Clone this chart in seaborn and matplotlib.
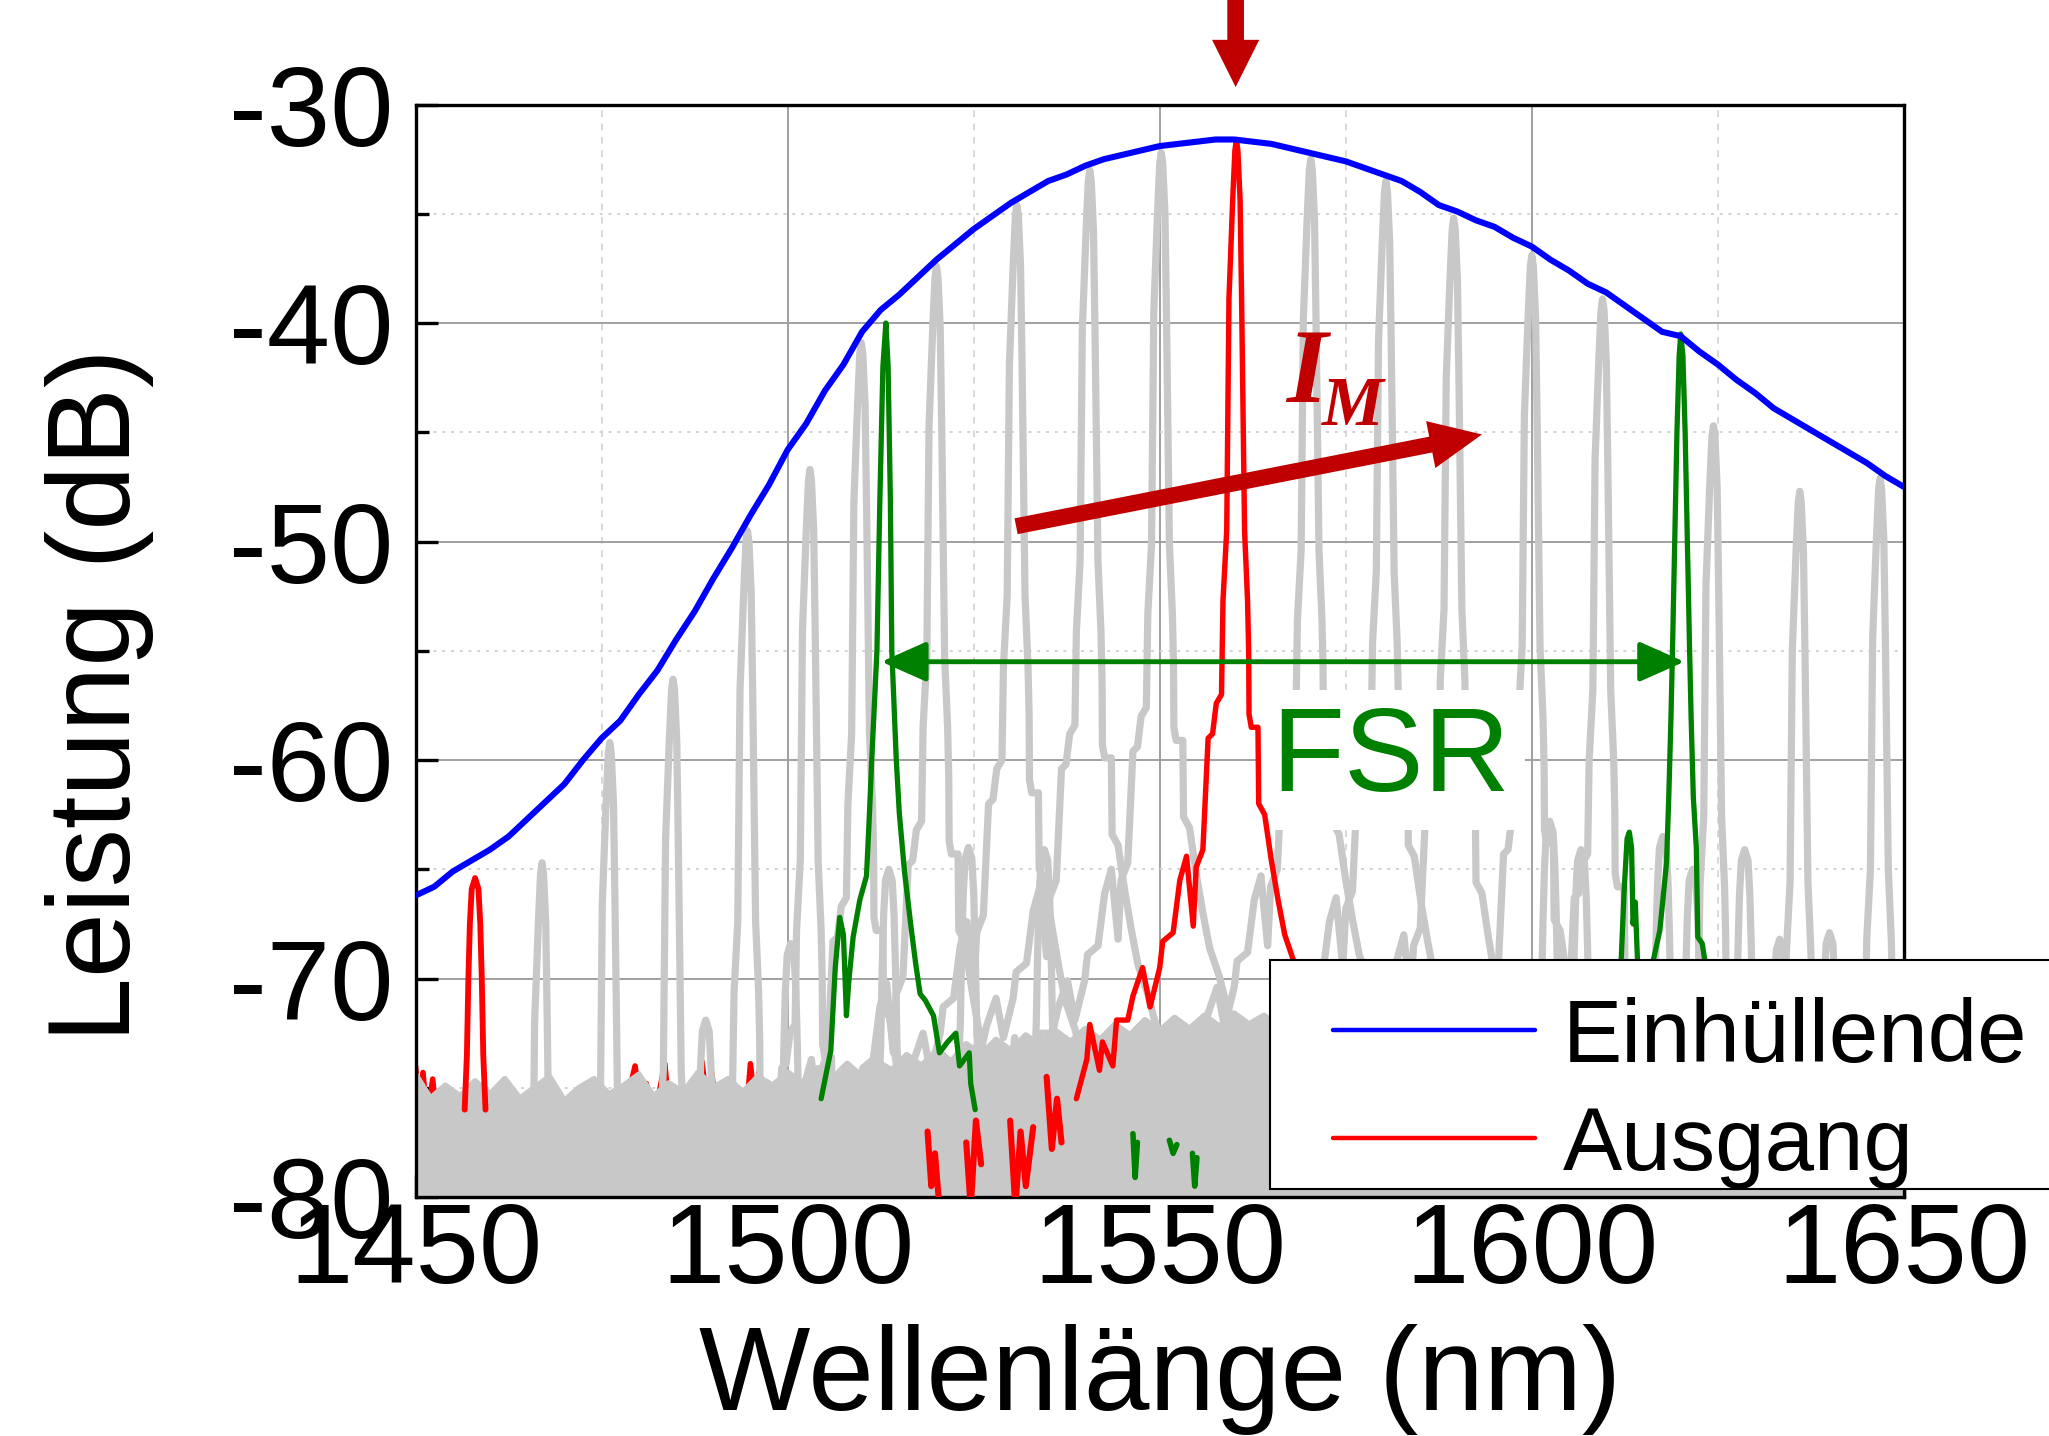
import numpy as np
import matplotlib
matplotlib.use("Agg")
import matplotlib.pyplot as plt
from matplotlib.lines import Line2D
from matplotlib.patches import Rectangle
from matplotlib.ticker import MultipleLocator
import seaborn as sns

# Einhuellende (blue envelope)
env_nm = [1450.0, 1452.5, 1455.0, 1457.5, 1460.0, 1462.5, 1465.0, 1467.5, 1470.0, 1472.5,
          1475.0, 1477.5, 1480.0, 1482.5, 1485.0, 1487.5, 1490.0, 1492.5, 1495.0, 1497.5,
          1500.0, 1502.5, 1505.0, 1507.5, 1510.0, 1512.5, 1515.0, 1517.5, 1520.0, 1522.5,
          1525.0, 1527.5, 1530.0, 1532.5, 1535.0, 1537.5, 1540.0, 1542.5, 1545.0, 1547.5,
          1550.0, 1552.5, 1555.0, 1557.5, 1560.0, 1562.5, 1565.0, 1567.5, 1570.0, 1572.5,
          1575.0, 1577.5, 1580.0, 1582.5, 1585.0, 1587.5, 1590.0, 1592.5, 1595.0, 1597.5,
          1600.0, 1602.5, 1605.0, 1607.5, 1610.0, 1612.5, 1615.0, 1617.5, 1620.0, 1622.5,
          1625.0, 1627.5, 1630.0, 1632.5, 1635.0, 1637.5, 1640.0, 1642.5, 1645.0, 1647.5, 1650.0]
env_db = [-66.2, -65.8, -65.1, -64.6, -64.1, -63.5, -62.7, -61.9, -61.1, -60.0,
          -59.0, -58.2, -57.0, -55.9, -54.5, -53.2, -51.7, -50.3, -48.8, -47.4,
          -45.8, -44.6, -43.1, -41.9, -40.4, -39.4, -38.7, -37.9, -37.1, -36.4,
          -35.7, -35.1, -34.5, -34.0, -33.5, -33.2, -32.8, -32.5, -32.3, -32.1,
          -31.9, -31.8, -31.7, -31.6, -31.6, -31.7, -31.8, -32.0, -32.2, -32.4,
          -32.6, -32.9, -33.2, -33.5, -34.0, -34.6, -34.9, -35.3, -35.6, -36.1,
          -36.5, -37.1, -37.6, -38.2, -38.6, -39.2, -39.8, -40.4, -40.6, -41.3,
          -41.9, -42.6, -43.2, -43.9, -44.4, -44.9, -45.4, -45.9, -46.4, -47.0, -47.5]

# Ausgang (red): main line and its side mode
red_nm = [1538.8, 1540.2, 1540.6, 1541.9, 1542.3, 1543.7, 1544.2, 1545.7, 1546.4, 1547.7,
          1548.7, 1550.0, 1550.4, 1551.8, 1552.7, 1553.6, 1554.5, 1554.9, 1555.8, 1556.5,
          1557.1, 1557.6, 1558.3, 1558.5, 1559.0, 1559.3, 1559.8, 1560.1, 1560.3, 1560.5,
          1560.8, 1561.0, 1561.4, 1561.8, 1561.95, 1562.0, 1562.3, 1563.2, 1563.3, 1564.1,
          1565.0, 1565.9, 1566.8, 1568.1, 1569.0, 1571.0, 1574.0]
red_db = [-75.5, -73.7, -72.1, -74.2, -72.9, -74.0, -71.9, -71.9, -70.8, -69.5,
          -71.3, -69.5, -68.3, -67.9, -65.5, -64.4, -67.6, -64.9, -64.1, -59.0,
          -58.8, -57.4, -57.0, -52.7, -49.5, -38.9, -34.4, -32.1, -31.6, -32.1,
          -34.4, -38.9, -49.5, -52.7, -55.0, -57.9, -58.5, -58.5, -62.0, -62.5,
          -64.6, -66.4, -68.0, -69.3, -70.5, -72.5, -74.5]
red_center, red_top = 1560.3, -31.6

red_side_nm = [1456.6, 1456.9, 1457.1, 1457.3, 1457.55, 1458.0, 1458.45, 1458.7, 1458.9, 1459.1, 1459.4]
red_side_db = [-76.0, -73.5, -70.0, -67.5, -65.9, -65.4, -65.9, -67.5, -70.0, -73.5, -76.0]
side_center, side_top = 1458.0, -65.4

# red noise poking out of the floor, and deep red dips
red_noise_nm = [1450.0, 1450.5, 1451.0, 1451.6, 1452.3, 1453.0, 1455.0, 1457.0, 1462.0, 1467.0,
                1472.0, 1478.0, 1479.5, 1480.3, 1481.0, 1482.0, 1483.5, 1484.2, 1487.8, 1488.5,
                1489.2, 1489.8, 1490.5, 1494.5, 1495.0, 1495.6, 1496.2, 1497.0, 1505.0, 1510.0,
                1512.5, 1518.5, 1519.5, 1520.3, 1521.0]
red_noise_db = [-74.0, -76.0, -74.3, -76.5, -74.6, -77.0, -76.0, -76.5, -76.0, -76.5,
                -76.0, -76.2, -74.0, -76.0, -74.8, -76.5, -73.9, -76.5, -75.5, -73.8,
                -76.0, -74.3, -76.5, -76.0, -73.9, -75.8, -74.2, -76.2, -76.0, -76.5,
                -75.5, -76.5, -74.0, -75.8, -76.5]
red_dips = [([1518.8, 1519.3, 1519.8, 1520.4], [-77.0, -79.5, -78.0, -80.5]),
            ([1524.0, 1524.6, 1525.3, 1526.0], [-77.5, -80.5, -76.5, -78.5]),
            ([1529.9, 1530.6, 1531.3, 1532.0, 1533.0], [-76.5, -80.5, -77.0, -79.5, -76.8]),
            ([1534.8, 1535.5, 1536.2, 1536.8], [-74.5, -77.8, -75.5, -77.5])]

# green trace (two modes one FSR apart)
green1_nm = [1504.5, 1505.8, 1506.4, 1507.0, 1507.5, 1507.9, 1508.2, 1508.8, 1509.7, 1510.6,
             1511.0, 1511.3, 1512.0, 1512.4, 1512.8, 1513.2, 1513.5, 1513.8, 1514.0, 1514.6,
             1515.0, 1515.7, 1516.6, 1517.2, 1517.8, 1518.5, 1519.6, 1520.4, 1521.5, 1522.6,
             1523.1, 1524.4, 1524.6, 1525.2]
green1_db = [-75.5, -73.3, -69.5, -67.2, -68.0, -71.7, -70.2, -68.1, -66.4, -65.3,
             -62.4, -60.0, -55.0, -48.0, -42.0, -40.0, -42.0, -48.0, -55.0, -60.0,
             -62.4, -65.1, -67.7, -69.3, -70.7, -71.0, -71.7, -73.4, -72.9, -72.5,
             -74.0, -73.4, -74.8, -76.0]
green2_nm = [1610.5, 1611.5, 1612.0, 1612.4, 1612.8, 1613.1, 1613.4, 1613.6, 1613.9, 1614.2,
             1614.6, 1615.2, 1616.0, 1616.3, 1617.2, 1618.1, 1618.4, 1618.7, 1618.9, 1619.2,
             1619.5, 1619.8, 1620.0, 1620.3, 1620.6, 1620.9, 1621.2, 1621.4, 1621.7, 1622.1,
             1622.3, 1622.9, 1623.4, 1624.0, 1624.6]
green2_db = [-76.0, -72.0, -69.2, -66.0, -63.6, -63.3, -64.0, -67.5, -66.5, -69.2,
             -73.0, -76.0, -73.0, -69.2, -67.8, -64.7, -61.7, -58.0, -55.0, -50.0,
             -45.0, -41.5, -40.5, -41.5, -45.0, -50.0, -55.0, -58.0, -61.7, -64.0,
             -68.1, -68.4, -69.5, -73.0, -76.0]
green_dips = [([1546.4, 1546.7, 1547.0], [-77.1, -79.1, -77.5]),
              ([1551.3, 1551.8, 1552.3], [-77.4, -78.0, -77.6]),
              ([1554.4, 1554.7, 1555.0], [-78.0, -79.5, -78.2])]

# grey tuning spectra: main mode tops and weak side modes
gray_nm = [1467.0, 1476.1, 1484.6, 1494.6, 1503.0, 1509.9, 1520.0, 1530.8, 1540.6, 1550.2,
           1570.3, 1580.4, 1589.5, 1600.0, 1609.5, 1624.4, 1636.0, 1646.8]
gray_db = [-64.7, -59.2, -56.3, -49.5, -46.7, -40.9, -37.4, -34.6, -33.0, -32.2,
           -32.5, -33.5, -35.2, -36.9, -38.9, -44.7, -47.7, -47.1]
gray_side_nm = [1489.0, 1500.4, 1513.6, 1524.3, 1534.5, 1602.4, 1606.6, 1617.6, 1621.6, 1628.6, 1633.3, 1640.0]
gray_side_db = [-71.9, -68.4, -65.0, -64.0, -64.1, -62.8, -64.1, -63.5, -65.0, -64.1, -68.2, -67.9]

# grey noise floor (upper edge, every 2 nm)
floor_nm = np.arange(1450, 1651, 2)
floor_db = [-74.4, -75.5, -74.9, -75.4, -74.7, -75.3, -74.6, -75.5, -75.0, -74.5,
            -75.6, -75.0, -74.6, -75.3, -74.9, -74.4, -75.4, -74.8, -75.2, -74.3,
            -75.0, -74.6, -75.2, -74.5, -74.9, -74.3, -74.8, -74.1, -74.6, -73.9,
            -74.5, -73.8, -74.2, -73.5, -74.0, -73.3, -73.8, -73.0, -73.5, -72.8,
            -73.3, -72.6, -73.1, -72.4, -72.9, -72.3, -72.8, -72.1, -72.6, -71.9,
            -72.4, -71.8, -72.3, -71.7, -72.2, -71.6, -72.1, -71.7, -72.2, -71.8,
            -72.0, -72.5, -71.9, -72.4, -72.0, -72.6, -71.8, -72.3, -72.0, -72.5,
            -71.9, -72.4, -72.1, -72.6, -72.0, -72.5, -71.9, -72.3, -72.1, -72.6,
            -72.0, -72.4, -71.9, -72.5, -72.1, -72.6, -72.0, -72.3, -72.1, -72.5,
            -71.9, -72.4, -72.0, -72.6, -72.1, -72.3, -72.0, -72.5, -71.9, -72.4, -72.1]

sns.set_theme(style="white")
plt.rcParams["font.family"] = ["Liberation Sans", "DejaVu Sans"]
plt.rcParams["axes.unicode_minus"] = False
plt.rcParams["text.color"] = "black"
plt.rcParams["xtick.color"] = "black"
plt.rcParams["ytick.color"] = "black"
plt.rcParams["axes.labelcolor"] = "black"

GRAY = "#c8c8c8"
DARKRED = "#c00000"
GREEN = "#008000"

fig = plt.figure(figsize=(20.49, 14.36), dpi=100)
ax = fig.add_axes([0.2028, 0.1664, 0.7264, 0.7608])


def line(x, y, color, lw, z):
    sns.lineplot(x=list(x), y=list(y), color=color, linewidth=lw, zorder=z,
                 estimator=None, sort=False, ax=ax)


# red noise below the grey floor
line(red_noise_nm, red_noise_db, "#ff0000", 4.0, 1.9)
ax.fill_between(floor_nm, -80.5, floor_db, color=GRAY, lw=0, zorder=2)
line(floor_nm, floor_db, GRAY, 4.5, 2.1)

# grey spectra reuse the measured red line shape
shape_dx = np.array(red_nm) - red_center
shape_dy = np.array(red_db) - red_top
for c, t in zip(gray_nm, gray_db):
    line(c + shape_dx, t + shape_dy, GRAY, 5.2, 2.2)
side_dx = np.array(red_side_nm) - side_center
side_dy = np.array(red_side_db) - side_top
for c, t in zip(gray_side_nm, gray_side_db):
    line(c + side_dx, t + side_dy, GRAY, 5.2, 2.2)

for xs, ys in red_dips:
    line(xs, ys, "#ff0000", 4.4, 3.1)
for xs, ys in green_dips:
    line(xs, ys, GREEN, 4.0, 3.1)

line(green1_nm, green1_db, GREEN, 3.8, 4)
line(green2_nm, green2_db, GREEN, 3.8, 4)
line(red_side_nm, red_side_db, "#ff0000", 4.2, 4)
line(red_nm, red_db, "#ff0000", 3.9, 4.1)
line(env_nm, env_db, "#0000ff", 4.4, 5)

ax.set_xlim(1450, 1650)
ax.set_ylim(-80, -30)
ax.xaxis.set_major_locator(MultipleLocator(50))
ax.xaxis.set_minor_locator(MultipleLocator(25))
ax.yaxis.set_major_locator(MultipleLocator(10))
ax.yaxis.set_minor_locator(MultipleLocator(5))
ax.set_axisbelow(True)
ax.grid(which="major", color="#a0a0a0", lw=1.4, ls="-")
ax.xaxis.grid(True, which="minor", color="#d2d2d2", lw=1.2, ls=(0, (4, 4)))
ax.yaxis.grid(True, which="minor", color="#d2d2d2", lw=1.4, ls=(0, (1.5, 3)))

for s in ax.spines.values():
    s.set_color("black")
    s.set_linewidth(2.4)
ax.tick_params(which="both", direction="in", color="black", width=2.4,
               bottom=True, left=True, top=False, right=False)
ax.tick_params(which="major", length=16)
ax.tick_params(which="minor", length=9)
ax.tick_params(axis="y", labelsize=82, pad=16, labelcolor="black")
ax.tick_params(axis="x", labelsize=82, pad=3, labelcolor="black")

ax.set_xlabel("Wellenlänge (nm)", fontsize=85, color="black")
ax.set_ylabel("Leistung (dB)", fontsize=84, color="black")
ax.xaxis.set_label_coords(0.5, -0.1165)
ax.yaxis.set_label_coords(-0.1757, 0.4595)

# annotations
ax.annotate("", xy=(1560.2, -29.2), xytext=(1560.2, -24.8),
            arrowprops=dict(arrowstyle="simple,head_length=0.85,head_width=0.85,tail_width=0.3",
                            color=DARKRED, lw=0, mutation_scale=40, shrinkA=0, shrinkB=0),
            annotation_clip=False, zorder=6)
ax.annotate("", xy=(1593.3, -45.1), xytext=(1530.7, -49.3),
            arrowprops=dict(arrowstyle="simple,head_length=0.94,head_width=0.86,tail_width=0.29",
                            color=DARKRED, lw=0, mutation_scale=40, shrinkA=0, shrinkB=0),
            zorder=6)
ax.text(1567.0, -43.6, "I", fontsize=76, color=DARKRED, family="Liberation Serif",
        weight="bold", style="italic", va="baseline", zorder=6)
ax.text(1571.8, -44.65, "M", fontsize=50, color=DARKRED, family="Liberation Serif",
        weight="bold", style="italic", va="baseline", zorder=6)

ax.annotate("", xy=(1620.5, -55.5), xytext=(1512.6, -55.5),
            arrowprops=dict(arrowstyle="<|-|>,head_length=0.9,head_width=0.4",
                            color=GREEN, lw=3.5, mutation_scale=31, shrinkA=0, shrinkB=0),
            zorder=6)
ax.text(1565.0, -61.4, "FSR", fontsize=86, color=GREEN, va="baseline", zorder=3.5,
        bbox=dict(boxstyle="square,pad=0.12", fc="white", ec="none"))

# legend: frame drawn as its own box, entries placed inside it
box = Rectangle((1270 / 2049, (1436 - 1189) / 1436), 0.45, (1189 - 960) / 1436,
                transform=fig.transFigure, fc="white", ec="black", lw=1.5,
                clip_on=False, zorder=9)
ax.add_patch(box)
handles = [Line2D([], [], color="#0000ff", lw=3.2), Line2D([], [], color="#ff0000", lw=3.2)]
leg = ax.legend(handles, ["Einhüllende", "Ausgang"], loc="upper left",
                bbox_to_anchor=(1333 / 2049, 0.306), bbox_transform=fig.transFigure,
                fontsize=64, frameon=False, borderpad=0, labelspacing=0.27,
                handlelength=2.27, handletextpad=0.31, borderaxespad=0)
leg.set_zorder(10)

fig.savefig("out.png", dpi=100)
